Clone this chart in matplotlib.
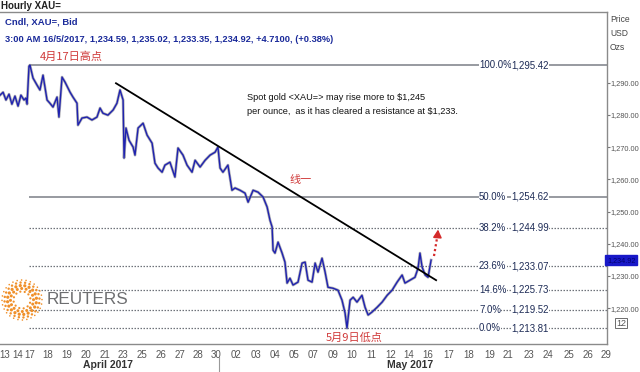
import numpy as np
import matplotlib
matplotlib.use("Agg")
import matplotlib.pyplot as plt
from matplotlib.patches import Circle
from matplotlib import font_manager

_names = {f.name for f in font_manager.fontManager.ttflist}
if 'Liberation Sans Narrow' in _names:
    NARROW, NS = 'Liberation Sans Narrow', 1.0
else:
    NARROW, NS = 'Liberation Sans', 0.82
plt.rcParams['font.family'] = [NARROW, 'DejaVu Sans']

# ---------------- data ----------------
# x = trading-day position (0 = Apr 13), y = XAU price
days = [-0.26, -0.10, 0.05, 0.21, 0.36, 0.52, 0.68, 0.83, 0.99, 1.09, 1.15, 1.25, 1.30,
        1.46, 1.67, 1.82, 1.98, 2.19, 2.34, 2.50, 2.71, 2.81, 2.97, 3.13, 3.39, 3.54,
        3.75, 3.80, 4.01, 4.27, 4.53, 4.79, 4.95, 5.10, 5.36, 5.63, 5.83, 5.99, 6.15,
        6.20, 6.30, 6.46, 6.67, 6.77, 6.93, 7.19, 7.40, 7.66, 7.81, 7.97, 8.18, 8.33,
        8.59, 8.85, 9.01, 9.27, 9.48, 9.74, 9.90, 10.16, 10.42, 10.68, 10.94, 11.09,
        11.20, 11.35, 11.61, 11.82, 11.98, 12.24, 12.50, 12.66, 12.92, 13.18, 13.44,
        13.65, 13.80, 13.91, 13.96, 14.06, 14.22, 14.43, 14.58, 14.69, 14.84, 15.00,
        15.26, 15.47, 15.63, 15.78, 15.99, 16.15, 16.30, 16.51, 16.67, 16.82, 17.08,
        17.34, 17.55, 17.71, 17.81, 17.97, 18.13, 18.33, 18.59, 18.75, 18.91, 19.11,
        19.38, 19.64, 19.90, 20.16, 20.42, 20.68, 20.83, 21.09, 21.35, 21.51, 21.61,
        21.72, 21.88, 22.03, 22.19]
prices = [1286.1, 1287.0, 1284.6, 1286.4, 1283.3, 1285.8, 1282.7, 1286.1, 1284.6, 1285.2,
          1283.3, 1295.1, 1295.42, 1291.4, 1289.2, 1287.7, 1292.3, 1284.6, 1283.6, 1282.4,
          1285.5, 1279.3, 1291.7, 1290.1, 1287.0, 1285.5, 1283.6, 1276.8, 1279.0, 1279.3,
          1278.4, 1279.3, 1282.1, 1280.5, 1279.9, 1281.5, 1283.6, 1287.7, 1284.6, 1266.6,
          1275.9, 1272.1, 1270.0, 1267.5, 1275.9, 1277.4, 1273.7, 1271.2, 1265.0, 1263.5,
          1262.2, 1264.4, 1265.3, 1260.7, 1269.7, 1267.5, 1264.4, 1262.2, 1265.9, 1263.8,
          1265.9, 1267.5, 1268.4, 1270.0, 1263.5, 1262.2, 1264.4, 1256.6, 1257.3, 1256.6,
          1255.7, 1252.9, 1256.6, 1256.0, 1254.5, 1251.4, 1247.3, 1245.2, 1238.0, 1237.1,
          1240.5, 1237.1, 1234.3, 1227.8, 1229.3, 1227.2, 1228.1, 1234.0, 1234.3, 1228.7,
          1228.1, 1234.0, 1231.2, 1235.5, 1231.2, 1226.5, 1226.2, 1225.6, 1222.5, 1218.5,
          1213.81, 1222.5, 1223.4, 1221.9, 1224.0, 1220.3, 1217.9, 1218.8, 1220.3, 1221.9,
          1224.0, 1225.6, 1228.1, 1230.3, 1227.8, 1228.7, 1229.6, 1232.4, 1237.1, 1232.8,
          1230.3, 1229.6, 1234.92]

fib_pct = ['100.0%', '50.0%', '38.2%', '23.6%', '14.6%', '7.0%', '0.0%']
fib_val = [1295.42, 1254.62, 1244.99, 1233.07, 1225.73, 1219.52, 1213.81]
fib_start_day = 1.25

trend_days = [5.78, 22.45]
trend_prices = [1289.8, 1228.7]

arrow_days = [22.34, 22.55]
arrow_prices = [1236.2, 1243.6]

last_price = 1234.92

xtick_labels = ['13', '14', '17', '18', '19', '20', '21', '23', '25', '26', '27', '28', '30',
                '02', '03', '04', '05', '07', '09', '10', '11', '12', '14', '16', '17', '18',
                '19', '21', '23', '24', '25', '26', '29']
xtick_days = [0.0, 0.68, 1.3, 2.24, 3.2, 4.2, 5.18, 6.12, 7.14, 8.1, 9.1, 10.05, 11.0,
              12.05, 13.05, 14.05, 15.05, 16.05, 17.08, 18.07, 19.1, 20.1, 21.0, 22.0,
              23.1, 24.15, 25.25, 26.2, 27.3, 28.3, 29.35, 30.35, 31.3]
ytick_vals = [1220, 1230, 1240, 1250, 1260, 1270, 1280, 1290]

# ---------------- figure ----------------
W, H = 640, 372
fig = plt.figure(figsize=(W / 100, H / 100), dpi=100)
fig.patch.set_facecolor('white')

def fx(x):
    return x / W

def fy(y):
    return 1 - y / H

top_px, bot_px, right_px = 12, 344, 607
ax = fig.add_axes([0, fy(bot_px), fx(right_px), (bot_px - top_px) / H])
ax.set_facecolor('white')
ax.set_xlim(-0.26, 31.35)
ax.set_ylim(1208.9, 1311.9)

ax.spines['left'].set_visible(False)
for s in ['top', 'right', 'bottom']:
    ax.spines[s].set_color('#8a8a8a')
    ax.spines[s].set_linewidth(1.0)

# fib lines
tr = ax.get_yaxis_transform()
for pct, v in zip(fib_pct, fib_val):
    if pct in ('100.0%', '50.0%'):
        ax.hlines(v, fib_start_day, 31.35, colors='#7a7e86', lw=1.1, zorder=1)
    else:
        ax.hlines(v, fib_start_day, 31.35, colors='#6f737a', lw=0.9,
                  linestyles=(0, (1.2, 1.2)), zorder=1)
    ax.text(479 / right_px, v, pct, transform=tr, ha='left', va='center',
            fontsize=8.5 * NS, color='#1c2a55', zorder=3,
            bbox=dict(boxstyle='square,pad=0.05', fc='white', ec='none'))
    ax.text(549 / right_px, v, f"{v:,.2f}", transform=tr, ha='right',
            va='center', fontsize=8.5 * NS, color='#1c2a55', zorder=3,
            bbox=dict(boxstyle='square,pad=0.05', fc='white', ec='none'))

# price series
ax.plot(days, prices, color='#8c8c96', lw=2.0, alpha=0.7, zorder=2)
ax.plot(days, prices, color='#1f22b0', lw=1.0, zorder=2.5)

# trend line
ax.plot(trend_days, trend_prices, color='black', lw=1.3, zorder=4)

# red dotted arrow
ax.plot(arrow_days, arrow_prices, color='#d42a2a', lw=1.6, ls=(0, (1, 1.2)), zorder=4)
ax.annotate('', xy=(arrow_days[1], arrow_prices[1] + 0.8),
            xytext=(arrow_days[1] - 0.02, arrow_prices[1] - 0.8),
            arrowprops=dict(arrowstyle='-|>,head_length=0.45,head_width=0.25',
                            color='#d42a2a', lw=1.2), zorder=4)

# y axis on the right
ax.yaxis.tick_right()
ax.set_yticks(ytick_vals)
ax.set_yticklabels([f"{v:,.2f}" for v in ytick_vals])
ax.tick_params(axis='y', length=2, width=0.8, color='#777777', labelsize=6.5 * NS,
               labelcolor='#555555', pad=0.5)

# x axis
ax.set_xticks(xtick_days)
ax.set_xticklabels(xtick_labels)
ax.tick_params(axis='x', length=0, labelsize=7, labelcolor='#555555', pad=4)

# current price box
ax.text(1.0, last_price, f"{last_price:,.2f}", transform=ax.get_yaxis_transform(),
        ha='left', va='center', fontsize=6.4 * NS, color='#000070',
        bbox=dict(boxstyle='square,pad=0.25', fc='#1818c8', ec='#1818c8'), clip_on=False)

# "12" box
fig.text(fx(616), fy(323), '12', fontsize=6.5, color='#555555', va='center', ha='left',
         bbox=dict(boxstyle='square,pad=0.1', fc='white', ec='#555555', lw=0.6))

# header texts
fig.text(fx(1), fy(6), 'Hourly XAU=', fontsize=7, fontweight='bold', color='#222222',
         va='center', ha='left', family=['Liberation Sans', 'DejaVu Sans'])
fig.text(fx(5), fy(22), 'Cndl, XAU=, Bid', fontsize=8.3 * NS, fontweight='bold',
         color='#1a2a9a', va='center', ha='left')
fig.text(fx(5), fy(40),
         '3:00 AM 16/5/2017, 1,234.59, 1,235.02, 1,233.35, 1,234.92, +4.7100, (+0.38%)',
         fontsize=8.1 * NS, fontweight='bold', color='#1a2a9a', va='center', ha='left')

# right axis title
for txt, yy in [('Price', 20), ('USD', 34), ('Ozs', 48)]:
    fig.text(fx(610), fy(yy), txt, fontsize=7.5 * NS, color='#444444', va='center',
             ha='left')

# Chinese annotations
cjk = ['Noto Sans CJK SC', 'DejaVu Sans']
fig.text(fx(40), fy(57), '4月17日高点', fontsize=8, color='#d03a3a', va='center',
         ha='left', family=cjk)
fig.text(fx(290), fy(180), '线一', fontsize=8, color='#d03a3a', va='center', ha='left',
         family=cjk)
fig.text(fx(326), fy(338), '5月9日低点', fontsize=8, color='#d03a3a', va='center',
         ha='left', family=cjk)

# comment text
fig.text(fx(247), fy(97), 'Spot gold <XAU=> may rise more to $1,245', fontsize=8.0 * NS,
         color='#111111', va='center', ha='left')
fig.text(fx(247), fy(112), 'per ounce,  as it has cleared a resistance at $1,233.',
         fontsize=8.0 * NS, color='#111111', va='center', ha='left')

# month labels
fig.text(fx(108), fy(365), 'April 2017', fontsize=7.5, fontweight='bold', color='#333333',
         va='center', ha='center')
fig.text(fx(410), fy(365), 'May 2017', fontsize=7.5, fontweight='bold', color='#333333',
         va='center', ha='center')
fig.add_artist(plt.Line2D([fx(219), fx(219)], [fy(357), fy(372)], color='#999999', lw=0.8))

# Reuters logo
lax = fig.add_axes([0, 0, 1, 1], facecolor='none')
lax.set_xlim(0, W)
lax.set_ylim(H, 0)
lax.axis('off')
cx, cy = 22, 300
for r, n, s in [(8.5, 12, 1.1), (11.5, 16, 1.5), (14.5, 20, 1.6), (17.5, 24, 1.2), (20, 28, 0.8)]:
    ang = np.linspace(0, 2 * np.pi, n, endpoint=False) + r * 0.1
    for a in ang:
        lax.add_patch(Circle((cx + r * np.cos(a), cy + r * np.sin(a)), s,
                             color='#f0902a', lw=0))
lax.text(47, 300, 'REUTERS', fontsize=15 * NS, color='#6d6e70', va='center', ha='left')

fig.savefig('out.png', dpi=100, facecolor='white')
